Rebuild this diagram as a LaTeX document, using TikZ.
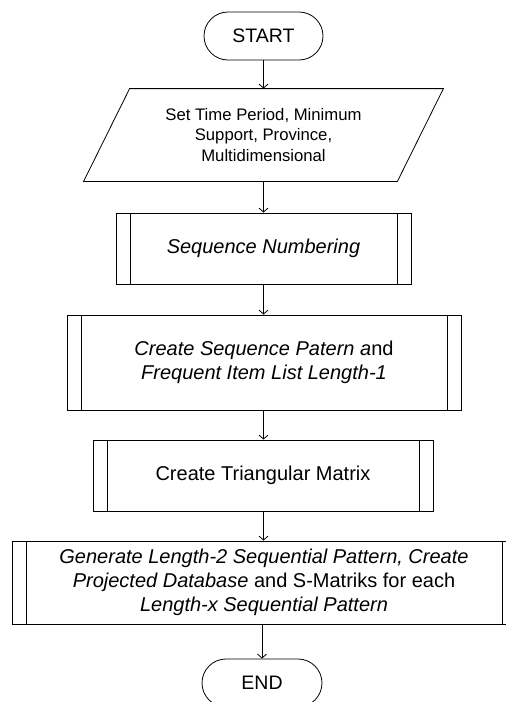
\documentclass[tikz,border=0pt]{standalone}
\usepackage{fontspec}
\setmainfont{Liberation Sans}
\usetikzlibrary{arrows.meta,calc}
\begin{document}
\begin{tikzpicture}[x=1pt,y=-1pt,
  line width=0.8pt,
  term/.style={draw, rectangle, rounded corners=24pt, minimum width=119pt, minimum height=48pt, inner sep=0pt, font=\fontsize{19.5}{23}\selectfont},
  iobox/.style={rectangle, inner sep=0pt, align=center, font=\fontsize{16.7}{20.7}\selectfont},
  subproc/.style={draw, rectangle, inner sep=0pt, align=center, font=\fontsize{20}{24.3}\selectfont,
    path picture={\draw[line width=0.8pt]
      ([xshift=14pt]path picture bounding box.north west) -- ([xshift=14pt]path picture bounding box.south west)
      ([xshift=-14pt]path picture bounding box.north east) -- ([xshift=-14pt]path picture bounding box.south east);}},
  arr/.style={-{Straight Barb[length=4pt,width=9pt]}}
]
\useasboundingbox (0,0) rectangle (506,702);
\clip (0,0) rectangle (506,702);

\node[term] (start) at (263.5,36) {START};

\node[iobox, minimum width=359pt, minimum height=92pt] (in) at (263.5,135)
  {Set Time Period, Minimum\\Support, Province,\\Multidimensional};
\draw (in.south west) -- ($(in.north west)+(46,0)$) -- (in.north east) -- ($(in.south east)-(46,0)$) -- cycle;

\node[subproc, minimum width=295pt, minimum height=71pt] (b1) at (263.5,248.5)
  {\textit{Sequence Numbering}};

\node[subproc, minimum width=394pt, minimum height=95pt] (b2) at (264,362.5)
  {\textit{Create Sequence Patern a}nd\\\textit{Frequent Item List Length-1}};

\node[subproc, minimum width=340pt, minimum height=71pt] (b3) at (263,475.5)
  {Create Triangular Matrix};

\node[subproc, minimum width=504pt, minimum height=83pt] (b4) at (264,582.5)
  {\textit{Generate Length-2 Sequential Pattern, Create}\\\textit{Projected Database} and S-Matriks for each\\\textit{Length-x Sequential Pattern}};

\node[term, minimum width=120pt] (end) at (262,683) {END};

\draw[arr] (start.south) -- (start.south |- in.north);
\draw[arr] (start.south |- in.south) -- (start.south |- b1.north);
\draw[arr] (start.south |- b1.south) -- (start.south |- b2.north);
\draw[arr] (start.south |- b2.south) -- (start.south |- b3.north);
\draw[arr] (start.south |- b3.south) -- (start.south |- b4.north);
\draw[arr] (end.north |- b4.south) -- (end.north);
\end{tikzpicture}
\end{document}
